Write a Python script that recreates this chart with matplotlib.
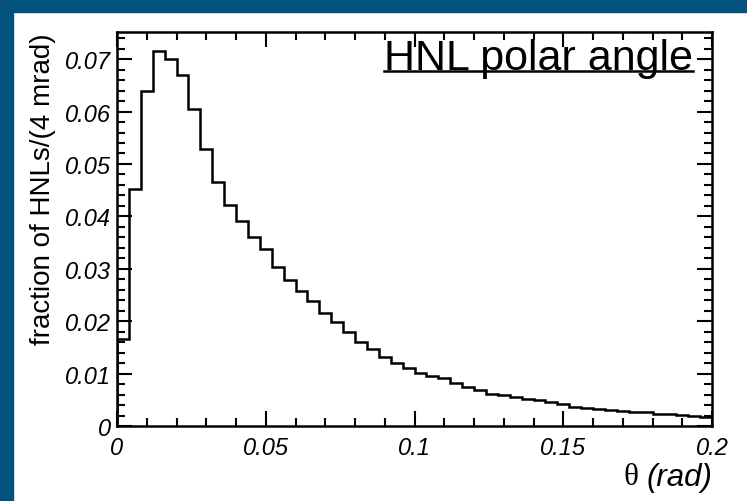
import numpy as np
import matplotlib
matplotlib.use("Agg")
import matplotlib.pyplot as plt
from matplotlib.patches import Rectangle
from matplotlib.lines import Line2D
from matplotlib.ticker import MultipleLocator

# HNL polar angle, 50 bins of 4 mrad from 0 to 0.2 rad
bin_edges = np.linspace(0.0, 0.2, 51)
fractions = [
    0.0166, 0.0452, 0.0639, 0.0716, 0.0700, 0.0669, 0.0605, 0.0529, 0.0466, 0.0422,
    0.0391, 0.0361, 0.0337, 0.0303, 0.0279, 0.0258, 0.0239, 0.0216, 0.0199, 0.0180,
    0.0160, 0.0147, 0.0131, 0.0120, 0.0110, 0.0101, 0.0095, 0.0091, 0.0082, 0.0075,
    0.0069, 0.0062, 0.0060, 0.0056, 0.0052, 0.0050, 0.0045, 0.0042, 0.0036, 0.0035,
    0.0032, 0.0031, 0.0028, 0.0026, 0.0026, 0.0023, 0.0023, 0.0021, 0.0020, 0.0018,
]
x_ticks = [0, 0.05, 0.1, 0.15, 0.2]
x_tick_labels = ["0", "0.05", "0.1", "0.15", "0.2"]
y_ticks = [0, 0.01, 0.02, 0.03, 0.04, 0.05, 0.06, 0.07]
y_tick_labels = ["0", "0.01", "0.02", "0.03", "0.04", "0.05", "0.06", "0.07"]

plt.rcParams['font.family'] = ['Liberation Sans', 'DejaVu Sans']

W, H = 747, 502
fig = plt.figure(figsize=(W / 100, H / 100), dpi=100, facecolor='white')

# blue canvas border (top and left)
blue = '#03517f'
fig.add_artist(Rectangle((0, 1 - 13 / H), 1, 13 / H, transform=fig.transFigure,
                         color=blue, zorder=0))
fig.add_artist(Rectangle((0, 0), 13 / W, 1, transform=fig.transFigure,
                         color=blue, zorder=0))

ax = fig.add_axes([117 / W, 75 / H, (712 - 117) / W, (427 - 33) / H])
ax.stairs(fractions, bin_edges, baseline=0, color='black', linewidth=1.8)

ax.set_xlim(0, 0.2)
ax.set_ylim(0, 1.05 * max(fractions))

ax.set_xticks(x_ticks)
ax.set_xticklabels(x_tick_labels, fontstyle='italic', fontsize=17)
ax.set_yticks(y_ticks)
ax.set_yticklabels(y_tick_labels, fontstyle='italic', fontsize=17)
ax.xaxis.set_minor_locator(MultipleLocator(0.01))
ax.yaxis.set_minor_locator(MultipleLocator(0.002))
ax.tick_params(which='both', direction='in', top=True, right=True, width=1.5)
ax.tick_params(which='major', length=10.5)
ax.tick_params(which='minor', length=5.5)
ax.tick_params(axis='x', pad=7)
ax.tick_params(axis='y', pad=4)
for s in ax.spines.values():
    s.set_linewidth(1.8)

ax.set_ylabel("fraction of HNLs/(4 mrad)", fontsize=20, loc='top', labelpad=7)

# x title: upright theta + italic (rad), right aligned at the axis end
t_rad = ax.text(1.0, -0.092, "(rad)", transform=ax.transAxes, ha='right', va='top',
                fontsize=22.5, fontstyle='italic')
fig.canvas.draw()
bb = t_rad.get_window_extent()
x_left = ax.transAxes.inverted().transform((bb.x0 - 8, bb.y0))[0]
ax.text(x_left, -0.092, "θ", transform=ax.transAxes, ha='right', va='top',
        fontsize=22.5, family='Liberation Serif')

# underlined title inside the frame
title = ax.text(0.968, 0.906, "HNL polar angle", transform=ax.transAxes,
                ha='right', va='baseline', fontsize=31)
fig.canvas.draw()
tb = title.get_window_extent()
fig.add_artist(Line2D([tb.x0 / W, tb.x1 / W], [(H - 72) / H, (H - 72) / H],
                      transform=fig.transFigure, color='black', linewidth=1.8))

fig.savefig('out.png', dpi=100)
